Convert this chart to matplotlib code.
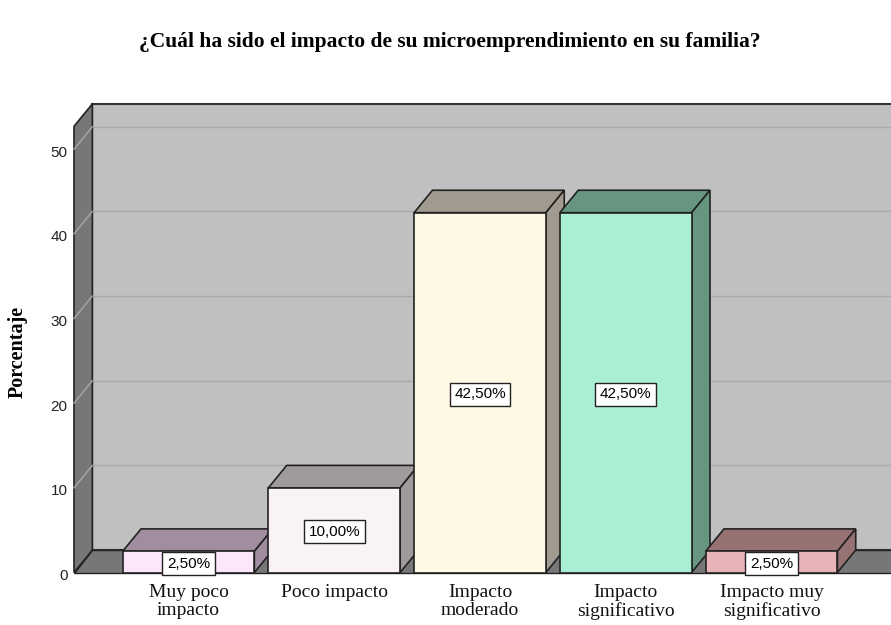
import matplotlib.pyplot as plt
from matplotlib.patches import Polygon

categorias = ['Muy poco\nimpacto', 'Poco impacto', 'Impacto\nmoderado',
              'Impacto\nsignificativo', 'Impacto muy\nsignificativo']
porcentajes = [2.5, 10.0, 42.5, 42.5, 2.5]
etiquetas = ['2,50%', '10,00%', '42,50%', '42,50%', '2,50%']
color_frente = ['#fce6fc', '#f9f3f3', '#fff8e4', '#aaeed4', '#e8b4b8']
color_lado = ['#a08ea0', '#a09a9a', '#a09b8e', '#66967f', '#967273']
ticks_y = [0, 10, 20, 30, 40, 50]

fig = plt.figure(figsize=(8.91, 6.25), dpi=100)
ax = fig.add_axes([0, 0, 1, 1])
ax.set_xlim(-1.2933, 4.820)
ax.set_ylim(-6.2, 67.62)
ax.axis('off')

# profundidad 3D en unidades de datos
dx, dy = 0.126, 2.65
xl, xr = -0.7856, 6.0
top = 52.7
ancho = 0.452

# pared izquierda, fondo y piso
ax.add_patch(Polygon([(xl, 0), (xl, top), (xl + dx, top + dy), (xl + dx, dy)],
                     closed=True, fc='#777777', ec='#222222', lw=1.2, zorder=1))
ax.add_patch(Polygon([(xl + dx, dy), (xl + dx, top + dy), (xr, top + dy), (xr, dy)],
                     closed=True, fc='#c0c0c0', ec='#333333', lw=1.5, zorder=0))
ax.add_patch(Polygon([(xl, 0), (xr, 0), (xr, dy), (xl + dx, dy)],
                     closed=True, fc='#777777', ec='#222222', lw=1.0, zorder=1))

# rejilla y marcas del eje
for v in ticks_y:
    if v > 0:
        ax.plot([xl + dx, xr], [v + dy, v + dy], color='#a9a9a9', lw=1.0, zorder=0.5)
        ax.plot([xl, xl + dx], [v, v + dy], color='#a9a9a9', lw=1.0, zorder=1.5)
    ax.text(xl - 0.045, v - 0.4, str(v), ha='right', va='center', fontsize=11,
            family='Liberation Sans', color='#222222')

# barras 3D
for i, v in enumerate(porcentajes):
    x0, x1 = i - ancho, i + ancho
    z = 2 + i
    ax.add_patch(Polygon([(x0, v), (x0 + dx, v + dy), (x1 + dx, v + dy), (x1, v)],
                         closed=True, fc=color_lado[i], ec='#222222', lw=1.2, zorder=z))
    ax.add_patch(Polygon([(x1, 0), (x1, v), (x1 + dx, v + dy), (x1 + dx, dy)],
                         closed=True, fc=color_lado[i], ec='#222222', lw=1.2, zorder=z))
    ax.add_patch(Polygon([(x0, 0), (x0, v), (x1, v), (x1, 0)],
                         closed=True, fc=color_frente[i], ec='#222222', lw=1.2, zorder=z))
    ax.text(i, v / 2 - 0.2, etiquetas[i], ha='center', va='center', fontsize=11,
            family='Liberation Sans', zorder=10,
            bbox=dict(boxstyle='square,pad=0.3', fc='white', ec='#222222', lw=1.0))
    ax.text(i, -1.3, categorias[i], ha='center', va='top', fontsize=14,
            family='Liberation Serif', linespacing=1.12, color='#111111')

ax.text(-1.17, 26.0, 'Porcentaje', rotation=90, ha='center', va='center',
        fontsize=14.5, family='Liberation Serif', fontweight='bold')
fig.text(0.505, 0.933, '¿Cuál ha sido el impacto de su microemprendimiento en su familia?',
         ha='center', va='center', fontsize=15.5, family='Liberation Serif',
         fontweight='bold')

fig.savefig('out.png', dpi=100)
